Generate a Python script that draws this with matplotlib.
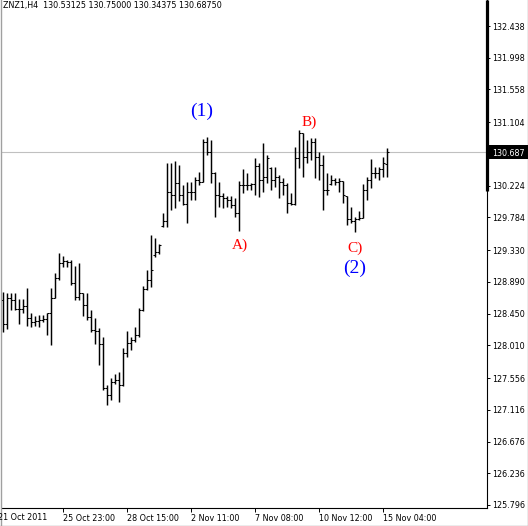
import numpy as np
import matplotlib
matplotlib.use("Agg")
import matplotlib.pyplot as plt
from matplotlib.lines import Line2D
from matplotlib.patches import Rectangle
import matplotlib.transforms as mtransforms

# ---------------- data (ZNZ1, H4) ----------------
opens = [128.64, 128.31, 128.67, 128.64, 128.51, 128.51, 128.56, 128.39, 128.33, 128.35,
         128.36, 128.37, 128.46, 128.67, 128.94, 129.15, 129.18, 129.17, 128.87, 128.68,
         128.74, 128.57, 128.40, 128.22, 128.21, 128.03, 127.42, 127.32, 127.50, 127.53,
         127.46, 127.90, 128.04, 128.08, 128.15, 128.50, 128.79, 128.92, 129.26, 129.30,
         129.66, 129.73, 130.14, 130.09, 130.26, 130.09, 129.97, 130.14, 130.14, 130.30,
         130.28, 130.83, 130.69, 130.40, 130.09, 130.08, 130.05, 130.03, 129.96, 129.85,
         130.23, 130.23, 130.23, 130.25, 130.50, 130.30, 130.34, 130.47, 130.30, 130.34,
         130.28, 130.23, 129.98, 129.97, 130.61, 130.95, 130.62, 130.69, 130.83, 130.62,
         130.51, 130.16, 130.25, 130.30, 130.28, 130.29, 130.08, 129.76, 129.73, 129.76,
         129.78, 130.16, 130.30, 130.40, 130.40, 130.46, 130.53125]
highs = [128.75, 128.74, 128.74, 128.74, 128.65, 128.65, 128.80, 128.46, 128.42, 128.43,
         128.43, 128.46, 128.80, 129.01, 129.29, 129.25, 129.19, 129.19, 129.11, 129.15,
         128.74, 128.74, 128.50, 128.39, 128.25, 128.13, 127.46, 127.56, 127.61, 127.64,
         127.97, 128.21, 128.13, 128.26, 128.53, 128.83, 129.05, 129.54, 129.50, 129.42,
         129.85, 130.54, 130.54, 130.57, 130.51, 130.23, 130.28, 130.28, 130.34, 130.41,
         130.87, 130.90, 130.86, 130.41, 130.28, 130.12, 130.08, 130.08, 130.05, 130.29,
         130.46, 130.40, 130.26, 130.61, 130.54, 130.82, 130.65, 130.48, 130.48, 130.37,
         130.33, 130.26, 130.12, 130.76, 131.00, 130.95, 130.86, 130.89, 130.89, 130.69,
         130.65, 130.40, 130.37, 130.33, 130.33, 130.29, 130.08, 129.93, 129.79, 129.87,
         130.25, 130.34, 130.59, 130.48, 130.48, 130.62, 130.75]
lows = [128.19, 128.24, 128.50, 128.50, 128.31, 128.46, 128.28, 128.26, 128.28, 128.26,
        128.33, 128.15, 128.01, 128.67, 128.92, 129.10, 129.10, 128.85, 128.64, 128.64,
        128.42, 128.36, 128.19, 128.03, 127.74, 127.39, 127.18, 127.25, 127.47, 127.22,
        127.45, 127.85, 127.95, 128.06, 128.12, 128.49, 128.78, 128.82, 129.23, 129.28,
        129.65, 129.65, 129.89, 129.91, 130.01, 129.96, 129.71, 130.03, 130.03, 130.23,
        130.27, 130.65, 130.26, 129.79, 129.93, 129.91, 129.93, 129.91, 129.79, 129.60,
        130.12, 130.16, 130.16, 130.09, 130.07, 130.14, 130.26, 130.16, 130.21, 130.05,
        130.09, 129.85, 129.96, 129.96, 130.47, 130.34, 130.54, 130.58, 130.33, 130.30,
        129.89, 130.09, 130.23, 130.23, 130.14, 129.98, 129.68, 129.71, 129.58, 129.75,
        129.77, 130.03, 130.19, 130.33, 130.30, 130.34, 130.34375]
closes = [128.31, 128.67, 128.64, 128.51, 128.51, 128.56, 128.39, 128.33, 128.35, 128.36,
          128.37, 128.46, 128.67, 128.94, 129.15, 129.18, 129.17, 128.87, 128.68, 128.74,
          128.57, 128.40, 128.22, 128.21, 128.03, 127.42, 127.32, 127.50, 127.53, 127.46,
          127.90, 128.04, 128.08, 128.15, 128.50, 128.79, 128.92, 129.05, 129.30, 129.40,
          129.73, 130.14, 130.09, 130.26, 130.09, 129.97, 130.14, 130.14, 130.30, 130.28,
          130.83, 130.69, 130.40, 130.09, 130.08, 130.05, 130.03, 129.96, 129.85, 130.23,
          130.23, 130.23, 130.25, 130.50, 130.30, 130.34, 130.61, 130.30, 130.34, 130.28,
          130.23, 129.98, 129.97, 130.61, 130.95, 130.62, 130.69, 130.83, 130.62, 130.51,
          130.16, 130.16, 130.30, 130.28, 130.29, 130.09, 129.76, 129.73, 129.76, 129.78,
          130.16, 130.30, 130.40, 130.40, 130.46, 130.54, 130.6875]

first_date_label = "21 Oct 2011"
x_tick_bars = [15, 31, 47, 63, 79, 95]
x_tick_labels = ["25 Oct 23:00", "28 Oct 15:00", "2 Nov 11:00", "7 Nov 08:00",
                 "10 Nov 12:00", "15 Nov 04:00"]
y_tick_values = [132.438, 131.998, 131.558, 131.104, 130.224, 129.784, 129.330,
                 128.890, 128.450, 128.010, 127.556, 127.116, 126.676, 126.236, 125.796]
current_price = 130.6875
current_price_label = "130.687"
header_text = "ZNZ1,H4  130.53125 130.75000 130.34375 130.68750"

wave_labels = ["(1)", "(2)", "A)", "B)", "C)"]
wave_bars = [49.75, 88.0, 59.25, 76.6, 88.0]
wave_prices = [131.26, 129.08, 129.40, 131.11, 129.36]
wave_colors = ["#0000ff", "#0000ff", "#ff0000", "#ff0000", "#ff0000"]
wave_sizes = [14, 14, 11, 11, 11]

# ---------------- figure ----------------
W, H = 528, 526
fig = plt.figure(figsize=(W / 100, H / 100), dpi=100)
fig.patch.set_facecolor("white")
ax = fig.add_axes([2 / W, 18 / H, 485 / W, 508 / H])

ymin, ymax = 125.754, 132.799
ax.set_xlim(-0.25, 121)
ax.set_ylim(ymin, ymax)

idx = np.arange(len(opens))
ax.axhline(current_price, color="#c0c0c0", lw=0.8, zorder=1)
ax.vlines(idx, lows, highs, color="black", lw=1.05, zorder=3)
ax.hlines(opens, idx - 0.42, idx, color="black", lw=0.75, zorder=3)
ax.hlines(closes, idx, idx + 0.42, color="black", lw=0.75, zorder=3)

for t, xb, yp, c, s in zip(wave_labels, wave_bars, wave_prices, wave_colors, wave_sizes):
    ax.text(xb, yp, t, color=c, fontsize=s, family="Liberation Serif",
            ha="center", va="center", zorder=4)

# spines
for side in ("left", "top"):
    ax.spines[side].set_visible(False)
for side in ("right", "bottom"):
    ax.spines[side].set_color("black")
    ax.spines[side].set_linewidth(0.8)

font = dict(family="DejaVu Sans", size=5.8)
ax.yaxis.tick_right()
ax.set_yticks(y_tick_values)
ax.set_yticklabels([f"{v:.3f}" for v in y_tick_values], **font)
ax.tick_params(axis="y", direction="out", length=2.2, width=0.7, pad=1.4, colors="black")

ax.set_xticks(x_tick_bars)
ax.set_xticklabels(x_tick_labels, **font)
for lab in ax.get_xticklabels():
    lab.set_horizontalalignment("left")
ax.tick_params(axis="x", direction="out", length=2.6, width=0.7, pad=2.0, colors="black")

# first date label at the left edge
fig.text(-1.5 / W, 1 - 513 / H, first_date_label, ha="left", va="top", **font)

# thick scale bar on the right axis (top part)
ax.plot([1, 1], [1, (130.15 - ymin) / (ymax - ymin)], transform=ax.transAxes,
        color="black", lw=2.3, solid_capstyle="butt", clip_on=False, zorder=5)

# current price label box
blend = mtransforms.blended_transform_factory(fig.transFigure, ax.transData)
ax_h = 0.194
fig.patches.append(Rectangle((488 / W, current_price - ax_h / 2), 40 / W, ax_h,
                             transform=blend, facecolor="black", edgecolor="none",
                             zorder=6))
fig.text(492 / W, current_price, current_price_label, transform=blend, color="white",
         ha="left", va="center_baseline", zorder=7, **font)

# header text
fig.text(3 / W, 1 - 1.2 / H, header_text, ha="left", va="top", color="black", **font)

# window border
gray = "#a0a0a0"
fig.lines.append(Line2D([0.5 / W, 0.5 / W], [0, 1], transform=fig.transFigure, color=gray, lw=1.0))
fig.lines.append(Line2D([1 - 0.5 / W, 1 - 0.5 / W], [0, 1], transform=fig.transFigure, color=gray, lw=1.0))
fig.lines.append(Line2D([0, 1], [0.5 / H, 0.5 / H], transform=fig.transFigure, color=gray, lw=1.0))

fig.savefig("out.png", dpi=100, facecolor="white")
